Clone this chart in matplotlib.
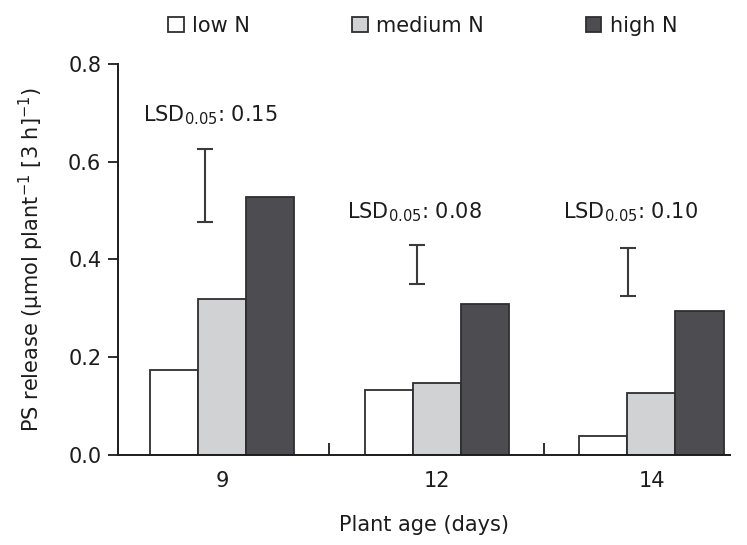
import numpy as np
import matplotlib
matplotlib.use("Agg")
from matplotlib import pyplot as plt
from matplotlib.patches import Patch

# PS release per plant at three plant ages and three N levels
ages = ["9", "12", "14"]
low_n = [0.173, 0.132, 0.038]
medium_n = [0.318, 0.146, 0.127]
high_n = [0.527, 0.309, 0.295]

# LSD bars: value, centre height, horizontal offset from group centre
lsd_values = [0.15, 0.08, 0.10]
lsd_centres = [0.551, 0.390, 0.374]
lsd_offsets = [-0.08, -0.09, -0.11]
lsd_labels = ["0.15", "0.08", "0.10"]

plt.rcParams["font.family"] = ["DejaVu Sans"]
plt.rcParams["mathtext.fontset"] = "dejavusans"
fs = 15
ink = "#1c1c1c"
edge = "#2e2e30"

fig = plt.figure(figsize=(7.47, 5.45), dpi=100)
ax = fig.add_axes([0.158, 0.166, 0.819, 0.716])

x = np.arange(len(ages))
w = 0.224
ax.bar(x - w, low_n, w, color="white", edgecolor=edge, linewidth=1.3)
ax.bar(x, medium_n, w, color="#d1d2d4", edgecolor=edge, linewidth=1.3)
ax.bar(x + w, high_n, w, color="#4d4c51", edgecolor=edge, linewidth=1.3)

ax.errorbar(x + np.array(lsd_offsets), lsd_centres, yerr=np.array(lsd_values) / 2,
            fmt="none", ecolor="#3a3a3c", elinewidth=1.5, capsize=6, capthick=1.5)

label_pos = [(-0.367, 0.682), (0.581, 0.485), (1.588, 0.485)]
for (lx, ly), lab in zip(label_pos, lsd_labels):
    ax.text(lx, ly, "LSD$_{0.05}$: " + lab, fontsize=fs, ha="left", va="baseline",
            color=ink)

ax.set_xlim(-0.484, 2.365)
ax.set_ylim(0, 0.8)
ax.set_yticks(np.arange(0, 0.81, 0.2))
ax.set_yticklabels(["%.1f" % v for v in np.arange(0, 0.81, 0.2)])
ax.set_xticks(x)
ax.set_xticklabels(ages)
ax.set_xticks([0.5, 1.5], minor=True)

ax.tick_params(axis="y", direction="out", length=7, width=1.3, pad=5, labelsize=fs,
               colors=ink)
ax.tick_params(axis="x", which="major", length=0, pad=12, labelsize=fs, colors=ink)
ax.tick_params(axis="x", which="minor", direction="in", length=9, width=1.3,
               colors=ink)

for s in ["top", "right"]:
    ax.spines[s].set_visible(False)
for s in ["left", "bottom"]:
    ax.spines[s].set_linewidth(1.4)
    ax.spines[s].set_color(ink)

ax.set_xlabel("Plant age (days)", fontsize=fs, labelpad=17, color=ink)
ax.set_ylabel("PS release (μmol plant$^{-1}$ [3 h]$^{-1}$)", fontsize=fs,
              labelpad=16, color=ink)

handles = [Patch(facecolor=c, edgecolor=edge, linewidth=1.3)
           for c in ["white", "#d1d2d4", "#4d4c51"]]
fig.legend(handles, ["low N", "medium N", "high N"], loc="center left",
           bbox_to_anchor=(0.225, 0.953), ncol=3, frameon=False, fontsize=fs,
           labelcolor=ink, handlelength=0.75, handleheight=0.75, handletextpad=0.4,
           columnspacing=4.9, borderpad=0, borderaxespad=0)

fig.savefig("out.png", dpi=100)
